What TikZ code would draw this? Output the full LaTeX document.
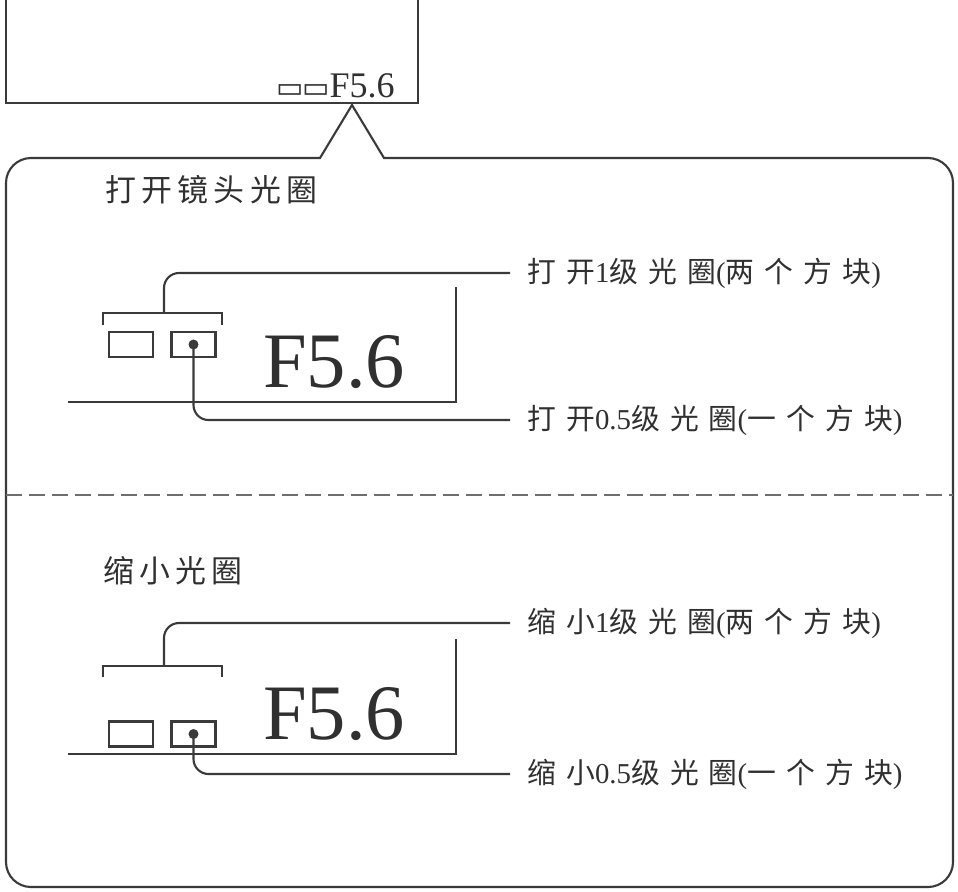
\documentclass[tikz,border=0pt]{standalone}
\usepackage{fontspec}
\setmainfont{Liberation Serif}
\newfontfamily\cjklabel[LetterSpace=35]{Noto Sans CJK SC}
\newfontfamily\cjktitle[LetterSpace=17]{Noto Sans CJK SC}
\newfontfamily\symfont{DejaVu Sans}
\usetikzlibrary{calc,positioning}
\definecolor{ApLine}{HTML}{3A3A3A}
\definecolor{ApText}{HTML}{303030}
\definecolor{ApDash}{HTML}{6E6E6E}
% Chinese words of a label, letter spaced
\newcommand{\zh}[1]{{\cjklabel #1}}

\begin{document}
\begin{tikzpicture}[
      x=0.2mm,y=-0.2mm,
      frame/.style={draw=ApLine,line width=1.2pt},
      panel/.style={draw=ApLine,line width=0.9pt},
      lead/.style={draw=ApLine,line width=1.2pt,rounded corners=3mm},
      cell/.style={rectangle,draw=ApLine,line width=1.5pt,fill=white,
        minimum width=8.8mm,minimum height=5mm,inner sep=0pt},
      dot/.style={circle,fill=ApLine,minimum size=2mm,inner sep=0pt},
      readout/.style={font=\fontsize{44.7}{44.7}\selectfont,text=ApText,
        inner sep=0pt},
      title/.style={font=\cjktitle\fontsize{17.6}{17.6}\selectfont,
        text=ApText,anchor=west,inner sep=0pt},
      label/.style={font=\fontsize{16.4}{16.4}\selectfont,
        text=ApText,anchor=west,inner xsep=3.4mm,inner ysep=0pt}
    ]
      \useasboundingbox (0,0) rectangle (958,891);

      % viewfinder and callout
      \draw[frame] (6,0) |- (418,103) -- (418,0);
      \node[anchor=base east,inner sep=0pt,text=ApText,
        font=\fontsize{20.5}{20.5}\selectfont] (vf) at (395,97)
        {{\symfont\fontsize{16.5}{16.5}\selectfont ▭\kern-1pt▭}F5.6};
      \draw[frame] (320,158) -- (352,105) -- (384,158)
        [rounded corners=5mm] -- (953,158) -- (953,887) -- (6,887)
        -- (6,158) [sharp corners] -- cycle;
      \draw[draw=ApDash,line width=1.2pt,dash pattern=on 3.2mm off 1.4mm]
        (6,495) -- (953,495);

      % open the aperture
      \node[title] (ttlA) at (105,190) {打开镜头光圈};
      \draw[panel] (68,402) -- (456,402) -- (456,287);
      \node[readout,anchor=base] (fA) at (334,387) {F5.6};
      \node[cell] (cA1) at (131,344.5) {};
      \node[cell] (cA2) at (193.5,344.5) {};
      \node[dot] (dA) at (193.5,344.5) {};
      \draw[panel] (103,325) |- (222,313) -- (222,325);
      \coordinate (brA) at (164,313);
      \node[label] (lA1) at (510,273) {\zh{打开}1\zh{级光圈}(\zh{两个方块})};
      \node[label] (lA2) at (510,420) {\zh{打开}0.5\zh{级光圈}(\zh{一个方块})};
      \draw[lead] (brA) |- (lA1.west);
      \draw[lead] (dA.center) |- (lA2.west);

      % close the aperture
      \node[title] (ttlB) at (103,571) {缩小光圈};
      \draw[panel] (68,754) -- (456,754) -- (456,639);
      \node[readout,anchor=base] (fB) at (334,739) {F5.6};
      \node[cell] (cB1) at (131,734) {};
      \node[cell] (cB2) at (193.5,734) {};
      \node[dot] (dB) at (193.5,734) {};
      \draw[panel] (103,677) |- (222,666) -- (222,677);
      \coordinate (brB) at (164,666);
      \node[label] (lB1) at (510,623) {\zh{缩小}1\zh{级光圈}(\zh{两个方块})};
      \node[label] (lB2) at (510,774) {\zh{缩小}0.5\zh{级光圈}(\zh{一个方块})};
      \draw[lead] (brB) |- (lB1.west);
      \draw[lead] (dB.center) |- (lB2.west);
    \end{tikzpicture}
\end{document}
